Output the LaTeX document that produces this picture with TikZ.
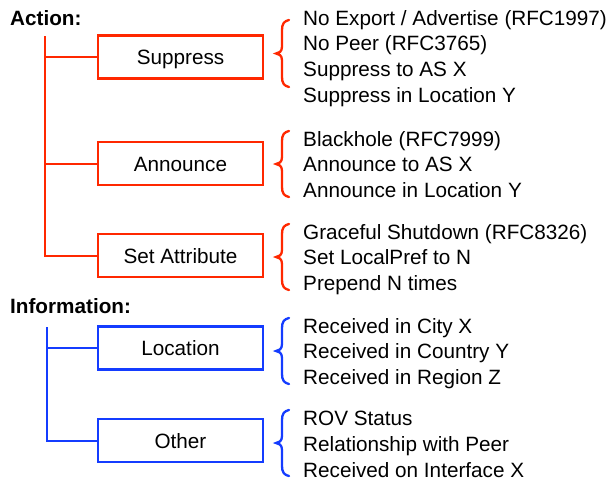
\documentclass[tikz,border=0pt]{standalone}
\usepackage{fontspec}
\setmainfont{Liberation Sans}

\definecolor{actred}{RGB}{255,40,0}
\definecolor{infoblue}{RGB}{20,60,255}

\begin{document}
\begin{tikzpicture}[
    x=1pt,
    y=-1pt,
    every node/.style={
        font=\fontsize{20.7}{25.7}\selectfont,
        inner sep=0pt
    },
    title/.style={
        anchor=base west,
        font=\fontsize{20.7}{25.7}\selectfont\bfseries
    },
    catbox/.style={
        draw,
        line width=2.3pt,
        minimum width=165pt,
        minimum height=43pt,
        text height=15pt,
        text depth=0pt
    },
    tree/.style={
        line width=2pt
    },
    curly/.style={
        line width=2.3pt,
        line cap=round
    },
    item/.style={
        anchor=base west
    }
]

\useasboundingbox (0,0) rectangle (615,480);

% =================================================
% Action
% =================================================

\node[title] (action) at (10,25) {Action:};

\node[catbox, actred] (suppress) at (180.5,57)    {\color{black}Suppress};
\node[catbox, actred] (announce) at (180.5,163.5) {\color{black}Announce};
\node[catbox, actred] (setattr)  at (180.5,255.5) {\color{black}Set Attribute};

\coordinate (atop) at (45,36);

\draw[tree, actred] (atop) |- (setattr.west);
\draw[tree, actred] (atop |- suppress.west) -- (suppress.west);
\draw[tree, actred] (atop |- announce.west) -- (announce.west);

% Klammern
\foreach \yt/\yb in {20/87, 131/197, 224/290} {
    \pgfmathsetmacro{\ym}{(\yt+\yb)/2}
    \draw[curly, actred]
        (289,\yt) .. controls (284,\yt+1) and (282,\yt+4) .. (282,\yt+10)
        -- (282,\ym-7) .. controls (282,\ym-2) and (279,\ym) .. (276,\ym)
        .. controls (279,\ym) and (282,\ym+2) .. (282,\ym+7)
        -- (282,\yb-10) .. controls (282,\yb-4) and (284,\yb-1) .. (289,\yb);
}

\foreach \t [count=\i] in {No Export / Advertise (RFC1997), No Peer (RFC3765),
        Suppress to AS X, Suppress in Location Y}
    \node[item] (sup\i) at (303,25+25.7*\i-25.7) {\t};

\foreach \t [count=\i] in {Blackhole (RFC7999), Announce to AS X,
        Announce in Location Y}
    \node[item] (ann\i) at (303,146+25.7*\i-25.7) {\t};

\foreach \t [count=\i] in {Graceful Shutdown (RFC8326), Set LocalPref to N,
        Prepend N times}
    \node[item] (set\i) at (303,239+25.7*\i-25.7) {\t};

% =================================================
% Information
% =================================================

\node[title] (info) at (10,313) {Information:};

\node[catbox, infoblue] (location) at (180.5,348)   {\color{black}Location};
\node[catbox, infoblue] (other)    at (180.5,440.5) {\color{black}Other};

\coordinate (itop) at (47,327);

\draw[tree, infoblue] (itop) |- (other.west);
\draw[tree, infoblue] (itop |- location.west) -- (location.west);

% Klammern
\foreach \yt/\yb in {318/384, 410/476} {
    \pgfmathsetmacro{\ym}{(\yt+\yb)/2}
    \draw[curly, infoblue]
        (289,\yt) .. controls (284,\yt+1) and (282,\yt+4) .. (282,\yt+10)
        -- (282,\ym-7) .. controls (282,\ym-2) and (279,\ym) .. (276,\ym)
        .. controls (279,\ym) and (282,\ym+2) .. (282,\ym+7)
        -- (282,\yb-10) .. controls (282,\yb-4) and (284,\yb-1) .. (289,\yb);
}

\foreach \t [count=\i] in {Received in City X, Received in Country Y,
        Received in Region Z}
    \node[item] (loc\i) at (303,333+25.9*\i-25.9) {\t};

\foreach \t [count=\i] in {ROV Status, Relationship with Peer,
        Received on Interface X}
    \node[item] (oth\i) at (303,425+26*\i-26) {\t};

\end{tikzpicture}
\end{document}
